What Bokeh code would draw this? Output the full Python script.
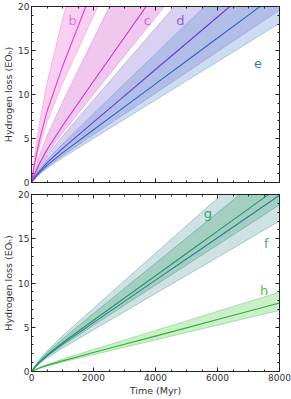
from bokeh.plotting import figure
from bokeh.models import (Range1d, LinearAxis, SingleIntervalTicker,
                          CustomJSTickFormatter, ColumnDataSource, Label)
from bokeh.layouts import column
from bokeh.embed import file_html
from bokeh.resources import INLINE

# ---------------- data ----------------
time_myr = [0, 100, 250, 500, 1000, 2000, 3000, 4000, 5000, 6000, 7000, 8000]

# top panel
b_mid = [0, 2.15, 4.74, 8.06, 13.19, 22.24, 31.15, 40.05, 48.95, 57.85, 66.75, 75.65]
b_hi = [0, 3.02, 6.66, 11.32, 18.53, 31.24, 43.75, 56.25, 68.75, 81.25, 93.75, 106.25]
b_lo = [0, 1.83, 4.04, 6.86, 11.24, 18.95, 26.53, 34.11, 41.69, 49.27, 56.85, 64.43]

c_mid = [0, 0.93, 2.10, 3.72, 6.45, 11.50, 16.50, 21.50, 26.50, 31.50, 36.50, 41.50]
c_hi = [0, 1.31, 2.98, 5.28, 9.15, 16.33, 23.43, 30.53, 37.63, 44.73, 51.83, 58.93]
c_lo = [0, 0.81, 1.83, 3.24, 5.62, 10.03, 14.39, 18.75, 23.11, 27.47, 31.83, 36.19]

d_mid = [0, 0.55, 1.25, 2.22, 3.85, 6.86, 9.85, 12.84, 15.82, 18.81, 21.79, 24.78]
d_hi = [0, 0.76, 1.71, 3.03, 5.26, 9.38, 13.46, 17.54, 21.62, 25.70, 29.78, 33.86]
d_lo = [0, 0.44, 0.99, 1.75, 3.04, 5.43, 7.79, 10.15, 12.51, 14.87, 17.23, 19.59]

e_mid = [0, 0.48, 1.09, 1.94, 3.36, 5.99, 8.60, 11.21, 13.81, 16.42, 19.02, 21.63]
e_hi = [0, 0.63, 1.43, 2.53, 4.38, 7.82, 11.22, 14.62, 18.02, 21.42, 24.82, 28.22]
e_lo = [0, 0.40, 0.92, 1.62, 2.81, 5.01, 7.19, 9.37, 11.55, 13.73, 15.91, 18.09]

# bottom panel
f_mid = [0, 0.44, 1.01, 1.78, 3.09, 5.52, 7.92, 10.32, 12.72, 15.12, 17.52, 19.92]
f_hi = [0, 0.58, 1.31, 2.31, 4.01, 7.15, 10.26, 13.37, 16.48, 19.59, 22.70, 25.81]
f_lo = [0, 0.38, 0.86, 1.52, 2.64, 4.71, 6.76, 8.81, 10.85, 12.90, 14.95, 17.00]

g_mid = [0, 0.47, 1.06, 1.87, 3.25, 5.79, 8.31, 10.82, 13.34, 15.86, 18.37, 20.89]
g_hi = [0, 0.53, 1.20, 2.12, 3.67, 6.55, 9.40, 12.24, 15.09, 17.94, 20.78, 23.63]
g_lo = [0, 0.42, 0.95, 1.69, 2.93, 5.22, 7.49, 9.76, 12.03, 14.30, 16.57, 18.84]

h_mid = [0, 0.17, 0.39, 0.69, 1.20, 2.14, 3.07, 4.00, 4.93, 5.87, 6.80, 7.73]
h_hi = [0, 0.20, 0.45, 0.80, 1.39, 2.48, 3.56, 4.64, 5.72, 6.80, 7.88, 8.96]
h_lo = [0, 0.15, 0.35, 0.62, 1.07, 1.91, 2.74, 3.57, 4.40, 5.24, 6.07, 6.90]

x_ticks_interval = 2000
y_ticks_interval = 5

FONT = "DejaVu Sans"
AX = "#222222"
TXT = "#333333"
W = 291


def blank_formatter():
    return CustomJSTickFormatter(code="return ''")


def style_axis(ax, labels=True):
    ax.major_tick_in = 4
    ax.major_tick_out = 0
    ax.minor_tick_in = 2
    ax.minor_tick_out = 0
    ax.axis_line_color = AX
    ax.major_tick_line_color = AX
    ax.minor_tick_line_color = AX
    ax.major_label_text_font = FONT
    ax.major_label_text_font_size = "9px"
    ax.major_label_text_color = TXT
    ax.axis_label_text_font = FONT
    ax.axis_label_text_font_size = "9.5px"
    ax.axis_label_text_font_style = "normal"
    ax.axis_label_text_color = TXT
    if labels:
        ax.major_label_standoff = 2
        ax.axis_label_standoff = 1
    else:
        ax.major_label_standoff = 0
        ax.formatter = blank_formatter()


def make_panel(height, top_b, bottom_b, x_labels):
    p = figure(width=W, height=height, x_range=Range1d(0, 8000), y_range=Range1d(0, 20),
               output_backend="svg", toolbar_location=None,
               min_border_left=0, min_border_right=12,
               min_border_top=top_b, min_border_bottom=bottom_b)
    p.grid.visible = False
    p.outline_line_color = AX
    p.background_fill_color = "white"
    p.border_fill_color = "white"

    xt = SingleIntervalTicker(interval=x_ticks_interval, num_minor_ticks=4)
    yt = SingleIntervalTicker(interval=y_ticks_interval, num_minor_ticks=5)

    p.xaxis.ticker = xt
    p.yaxis.ticker = yt
    style_axis(p.xaxis[0], labels=x_labels)
    style_axis(p.yaxis[0], labels=True)
    p.yaxis.axis_label = "Hydrogen loss (EOₕ)"
    if x_labels:
        p.xaxis.axis_label = "Time (Myr)"

    top = LinearAxis(ticker=SingleIntervalTicker(interval=x_ticks_interval, num_minor_ticks=4))
    style_axis(top, labels=False)
    p.add_layout(top, "above")
    right = LinearAxis(ticker=SingleIntervalTicker(interval=y_ticks_interval, num_minor_ticks=5))
    style_axis(right, labels=False)
    p.add_layout(right, "right")
    return p


def band(p, lo, mid, hi, fill, alpha, edge, line):
    src = ColumnDataSource(dict(t=time_myr, lo=lo, mid=mid, hi=hi))
    p.varea(x="t", y1="lo", y2="hi", source=src, fill_color=fill, fill_alpha=alpha)
    p.line(x="t", y="lo", source=src, line_color=edge, line_width=0.6, line_alpha=0.8)
    p.line(x="t", y="hi", source=src, line_color=edge, line_width=0.6, line_alpha=0.8)
    return src


def centre(p, src, line):
    p.line(x="t", y="mid", source=src, line_color=line, line_width=1.1)


def tag(p, x, y, text, color):
    p.add_layout(Label(x=x, y=y, text=text, text_color=color, text_font=FONT,
                       text_font_size="13px", text_align="center",
                       text_baseline="middle"))


# ---------------- top panel ----------------
p1 = make_panel(188, 6, 6, False)
sb = band(p1, b_lo, b_mid, b_hi, "#f7a8e8", 0.55, "#f080d8", "#e83cc8")
sc = band(p1, c_lo, c_mid, c_hi, "#e090e0", 0.5, "#e080e0", "#d030c8")
sd = band(p1, d_lo, d_mid, d_hi, "#9a86dc", 0.38, "#9a86dc", "#6a3cd0")
se = band(p1, e_lo, e_mid, e_hi, "#5a8fd0", 0.30, "#6a9ad8", "#2a66c0")
centre(p1, sb, "#e83cc8")
centre(p1, sc, "#d030c8")
centre(p1, sd, "#6a3cd0")
centre(p1, se, "#2a66c0")
tag(p1, 1330, 18.4, "b", "#e878d8")
tag(p1, 3740, 18.4, "c", "#d860d8")
tag(p1, 4800, 18.4, "d", "#8a60d8")
tag(p1, 7310, 13.5, "e", "#3a78c8")

# ---------------- bottom panel ----------------
p2 = make_panel(210, 6, 0, True)
sf = band(p2, f_lo, f_mid, f_hi, "#74acb0", 0.35, "#5a9aa8", "#2a7f8f")
sg = band(p2, g_lo, g_mid, g_hi, "#40a070", 0.30, "#40a080", "#20996a")
sh = band(p2, h_lo, h_mid, h_hi, "#7ed87e", 0.40, "#5ccc5c", "#30b030")
centre(p2, sf, "#2a7f8f")
centre(p2, sg, "#20996a")
centre(p2, sh, "#30b030")
tag(p2, 5690, 17.8, "g", "#3aa070")
tag(p2, 7570, 14.5, "f", "#5aa0b0")
tag(p2, 7500, 9.1, "h", "#50c050")

layout = column(p1, p2)
open("out.html", "w").write(file_html(layout, INLINE))
